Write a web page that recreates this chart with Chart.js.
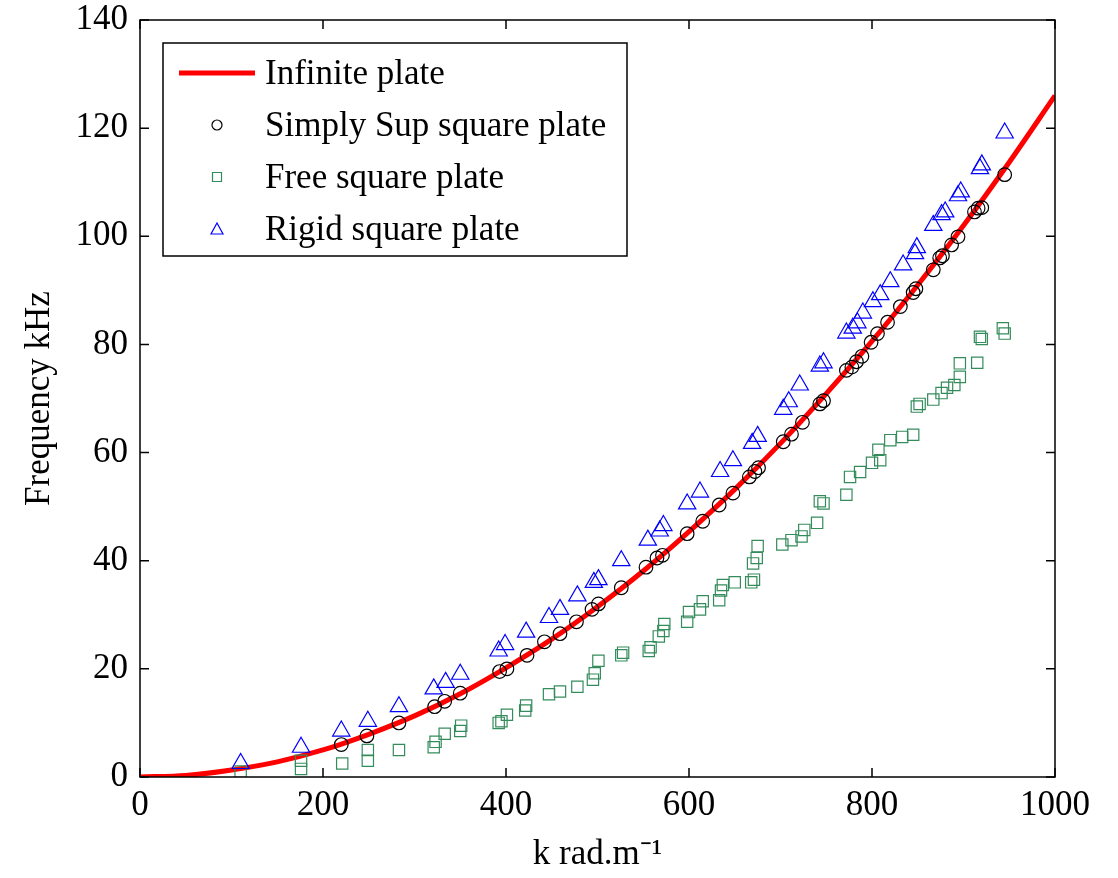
<!DOCTYPE html>
<html>
<head>
<meta charset="utf-8">
<script src="https://cdn.jsdelivr.net/npm/chart.js@4"></script>
<style>
  html, body { margin: 0; padding: 0; background: #fff; }
  #wrap { width: 1118px; height: 878px; }
</style>
</head>
<body>
<div id="wrap"><canvas id="dispersionChart"></canvas></div>
<script>
// Infinite plate curve
const kCurve = [0, 50, 100, 150, 200, 250, 300, 350, 400, 450, 500, 550, 600, 650, 700, 750, 800, 850, 900, 950, 1000];
const fCurve = [0, 0.3, 1.3, 2.8, 5.0, 7.9, 11.3, 15.4, 20.2, 25.5, 31.5, 38.1, 45.4, 53.2, 61.7, 70.9, 80.6, 91.0, 102.0, 113.7, 126.0];

// Simply supported square plate
const kSimply = [220, 248, 283, 322, 333, 350, 393, 401, 423, 442, 459, 477, 494, 501, 526, 553, 565, 571, 598, 615, 633, 648, 666, 672, 676, 703, 712, 724, 743, 747, 772, 778, 783, 789, 799, 806, 817, 831, 845, 848, 867, 874, 877, 887, 894, 912, 916, 920, 945];
const fSimply = [6.0, 7.6, 10.0, 13.0, 14.0, 15.5, 19.5, 20.0, 22.5, 25.0, 26.5, 28.7, 31.0, 32.0, 35.0, 38.8, 40.5, 41.0, 45.0, 47.3, 50.3, 52.5, 55.5, 56.5, 57.2, 62.0, 63.4, 65.6, 69.0, 69.6, 75.2, 75.8, 76.8, 77.8, 80.4, 82.0, 84.1, 87.0, 89.6, 90.3, 93.8, 96.0, 96.4, 98.4, 99.9, 104.5, 105.2, 105.3, 111.4];

// Free square plate
const kFree = [110, 176, 176, 221, 249, 249, 283, 321, 323, 333, 350, 351, 392, 395, 401, 421, 422, 447, 459, 478, 495, 497, 501, 526, 528, 556, 558, 567, 572, 573, 598, 600, 612, 615, 633, 635, 637, 650, 668, 671, 670, 674, 675, 702, 712, 723, 726, 740, 743, 747, 772, 776, 787, 800, 807, 809, 820, 833, 845, 849, 852, 867, 876, 882, 890, 896, 896, 915, 918, 920, 943, 945];
const fFree = [1.0, 1.5, 3.0, 2.5, 3.0, 5.0, 5.0, 5.5, 6.5, 8.0, 8.5, 9.5, 10.0, 10.3, 11.5, 12.3, 13.2, 15.3, 15.8, 16.7, 18.0, 19.2, 21.5, 22.5, 23.0, 23.3, 24.0, 26.0, 27.0, 28.3, 28.7, 30.5, 31.0, 32.5, 32.7, 34.5, 35.5, 36.0, 36.0, 36.5, 39.5, 40.5, 42.7, 43.0, 43.8, 44.5, 45.7, 47.0, 51.0, 50.6, 52.2, 55.5, 56.4, 58.1, 60.5, 58.6, 62.3, 62.9, 63.3, 68.5, 69.0, 69.8, 71.0, 72.0, 72.5, 74.0, 76.5, 76.6, 81.4, 81.0, 83.0, 82.0];

// Rigid square plate
const kRigid = [110, 176, 220, 249, 283, 321, 334, 350, 392, 399, 422, 447, 459, 478, 496, 501, 526, 555, 568, 572, 598, 612, 634, 648, 669, 675, 703, 709, 721, 743, 747, 772, 779, 784, 790, 801, 809, 820, 834, 847, 849, 867, 876, 880, 894, 897, 918, 920, 945];
const fRigid = [2.5, 5.5, 8.5, 10.3, 13.0, 16.3, 17.5, 19.0, 23.3, 24.5, 26.8, 29.5, 31.0, 33.5, 36.0, 36.5, 40.0, 43.8, 45.5, 46.5, 50.5, 52.7, 56.5, 58.5, 61.7, 63.0, 68.0, 69.4, 72.5, 76.0, 76.6, 82.1, 83.0, 84.0, 85.8, 87.9, 89.2, 91.6, 94.7, 96.8, 97.9, 102.0, 104.0, 104.5, 107.5, 108.2, 112.5, 113.2, 119.1];

const xTicks = [0, 200, 400, 600, 800, 1000];
const yTicks = [0, 20, 40, 60, 80, 100, 120, 140];

const toPoints = (ks, fs) => ks.map((k, i) => ({ x: k, y: fs[i] }));

const serif = '"Liberation Serif", "Times New Roman", serif';
const greenSq = 'rgb(52,140,92)';

const legendItems = [
    { text: 'Infinite plate', kind: 'line', color: '#ff0000' },
    { text: 'Simply Sup square plate', kind: 'circle', color: '#000000' },
    { text: 'Free square plate', kind: 'rect', color: greenSq },
    { text: 'Rigid square plate', kind: 'triangle', color: '#0000ff' }
];

// frame, inward ticks and the boxed legend inside the axes
const framePlugin = {
    id: 'frame',
    afterDraw(chart) {
        const { ctx, chartArea: a, scales: { x, y } } = chart;
        ctx.save();
        ctx.strokeStyle = '#000';
        ctx.lineWidth = 1.5;
        ctx.strokeRect(a.left, a.top, a.right - a.left, a.bottom - a.top);

        ctx.beginPath();
        x.ticks.forEach(t => {
            const px = x.getPixelForValue(t.value);
            ctx.moveTo(px, a.bottom); ctx.lineTo(px, a.bottom - 9);
            ctx.moveTo(px, a.top); ctx.lineTo(px, a.top + 9);
        });
        y.ticks.forEach(t => {
            const py = y.getPixelForValue(t.value);
            ctx.moveTo(a.left, py); ctx.lineTo(a.left + 9, py);
            ctx.moveTo(a.right, py); ctx.lineTo(a.right - 9, py);
        });
        ctx.stroke();

        // legend box
        const lx = a.left + 23, ly = a.top + 23, lw = 464, lh = 213;
        ctx.fillStyle = '#fff';
        ctx.fillRect(lx, ly, lw, lh);
        ctx.lineWidth = 1.5;
        ctx.strokeRect(lx, ly, lw, lh);

        ctx.font = '35px ' + serif;
        ctx.textBaseline = 'middle';
        legendItems.forEach((item, i) => {
            const cy = ly + 30 + i * 52;
            const cx = lx + 54;
            ctx.strokeStyle = item.color;
            ctx.beginPath();
            if (item.kind === 'line') {
                ctx.lineWidth = 5;
                ctx.moveTo(lx + 16, cy); ctx.lineTo(lx + 92, cy);
            } else if (item.kind === 'circle') {
                ctx.lineWidth = 1.2;
                ctx.arc(cx, cy, 5, 0, Math.PI * 2);
            } else if (item.kind === 'rect') {
                ctx.lineWidth = 1.2;
                ctx.rect(cx - 4.5, cy - 4.5, 9, 9);
            } else {
                ctx.lineWidth = 1.2;
                ctx.moveTo(cx, cy - 6); ctx.lineTo(cx + 6, cy + 5); ctx.lineTo(cx - 6, cy + 5); ctx.closePath();
            }
            ctx.stroke();
            ctx.fillStyle = '#000';
            ctx.fillText(item.text, lx + 102, cy + 2);
        });
        ctx.restore();
    }
};

const ctx = document.getElementById('dispersionChart').getContext('2d');
const dispersionChart = new Chart(ctx, {
    type: 'scatter',
    data: {
        datasets: [{
            label: 'Infinite plate',
            data: toPoints(kCurve, fCurve),
            showLine: true,
            borderColor: '#ff0000',
            borderWidth: 5,
            pointRadius: 0,
            cubicInterpolationMode: 'monotone',
            order: 4
        }, {
            label: 'Simply Sup square plate',
            data: toPoints(kSimply, fSimply),
            pointStyle: 'circle',
            pointRadius: 6.8,
            borderColor: '#000000',
            backgroundColor: 'rgba(0,0,0,0)',
            pointBorderWidth: 1.2,
            order: 1
        }, {
            label: 'Free square plate',
            data: toPoints(kFree, fFree),
            pointStyle: 'rect',
            pointRadius: 8,
            borderColor: greenSq,
            backgroundColor: 'rgba(0,0,0,0)',
            pointBorderWidth: 1.2,
            order: 3
        }, {
            label: 'Rigid square plate',
            data: toPoints(kRigid, fRigid),
            pointStyle: 'triangle',
            pointRadius: 10,
            borderColor: '#0000ff',
            backgroundColor: 'rgba(0,0,0,0)',
            pointBorderWidth: 1.2,
            order: 2
        }]
    },
    options: {
        responsive: true,
        maintainAspectRatio: false,
        animation: false,
        layout: { padding: { left: 0, right: 63, top: 20, bottom: 0 } },
        scales: {
            x: {
                type: 'linear',
                min: 0,
                max: 1000,
                afterFit: s => { s.height = 101; s.paddingLeft = 0; s.paddingRight = 0; },
                afterBuildTicks: s => { s.ticks = xTicks.map(v => ({ value: v })); },
                grid: { display: false, drawTicks: false },
                border: { display: false },
                ticks: {
                    color: '#000',
                    padding: 8,
                    maxRotation: 0,
                    callback: v => String(v),
                    font: { family: serif, size: 35 }
                },
                title: {
                    display: true,
                    text: 'k rad.m\u207B\u00B9',
                    color: '#000',
                    padding: { top: 0, bottom: 2 },
                    font: { family: serif, size: 35 }
                }
            },
            y: {
                type: 'linear',
                min: 0,
                max: 140,
                afterFit: s => { s.width = 140; s.paddingTop = 0; s.paddingBottom = 0; },
                afterBuildTicks: s => { s.ticks = yTicks.map(v => ({ value: v })); },
                grid: { display: false, drawTicks: false },
                border: { display: false },
                ticks: {
                    color: '#000',
                    padding: 12,
                    callback: v => String(v),
                    font: { family: serif, size: 35 }
                },
                title: {
                    display: true,
                    text: 'Frequency kHz',
                    color: '#000',
                    padding: { top: 19, bottom: 0 },
                    font: { family: serif, size: 35 }
                }
            }
        },
        plugins: {
            legend: { display: false },
            tooltip: { enabled: false }
        }
    },
    plugins: [framePlugin]
});
</script>
</body>
</html>
